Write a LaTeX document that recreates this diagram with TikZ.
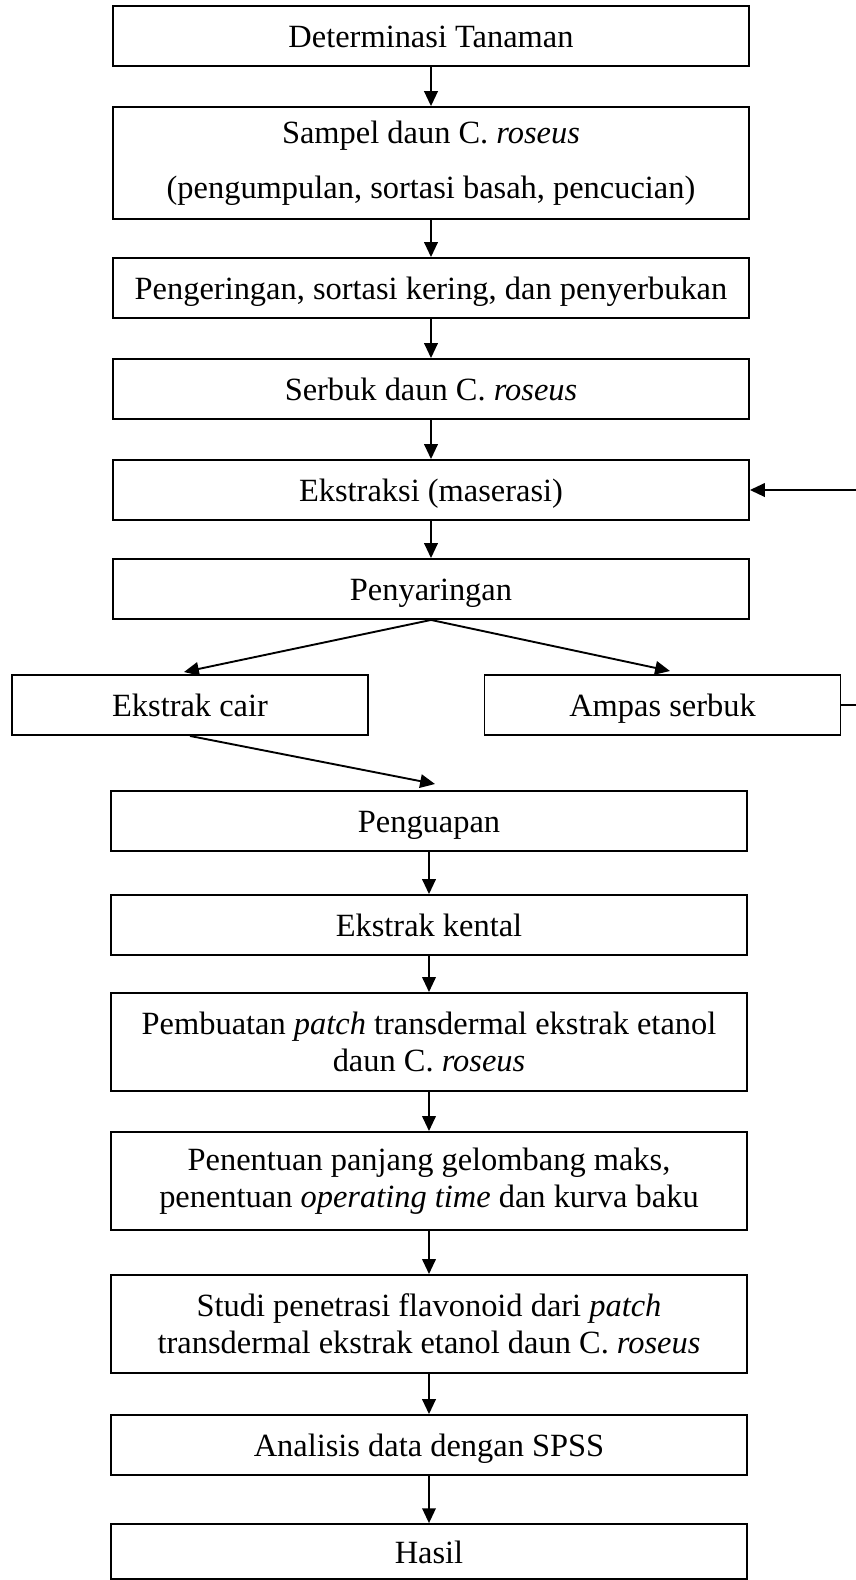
\documentclass[tikz,border=0pt]{standalone}
\usepackage{fontspec}
\setmainfont{Liberation Serif}
\usepackage{tikz}
\usetikzlibrary{arrows.meta}

\begin{document}
\begin{tikzpicture}[x=0.37pt, y=-0.37pt,
		kotak/.style={draw, rectangle, line width=0.7pt, inner sep=0pt, align=center,
			minimum width=235.3pt, minimum height=22.2pt,
			font=\fontsize{12pt}{13.8pt}\selectfont},
		proses/.style={kotak, text height=0.95em, text depth=0.1em},
		kecil/.style={proses, minimum width=131.7pt},
		dua/.style={kotak, minimum height=36.3pt},
		panah/.style={-{Triangle[length=5.5pt, width=5pt]}, line width=0.7pt}]
			\useasboundingbox (0,0) rectangle (856,1580);
			
			\node[proses] (det) at (431,36) {Determinasi Tanaman};
			\node[kotak, minimum height=41.4pt] (sampel) at (431,163) {Sampel daun C. \textit{roseus}\\[6.6pt](pengumpulan, sortasi basah, pencucian)};
			\node[proses] (kering) at (431,288) {Pengeringan, sortasi kering, dan penyerbukan};
			\node[proses] (serbuk) at (431,389) {Serbuk daun C. \textit{roseus}};
			\node[proses] (ekstraksi) at (431,490) {Ekstraksi (maserasi)};
			\node[proses] (saring) at (431,589) {Penyaringan};
			
			\node[kecil] (cair) at (190,705) {Ekstrak cair};
			\node[kecil] (ampas) at (662.5,705) {Ampas serbuk};
			
			\node[proses] (uap) at (429,821) {Penguapan};
			\node[proses] (kental) at (429,925) {Ekstrak kental};
			\node[dua] (patch) at (429,1042) {Pembuatan \textit{patch} transdermal ekstrak etanol\\daun C. \textit{roseus}};
			\node[dua] (kurva) at (429,1181) {Penentuan panjang gelombang maks,\\penentuan \textit{operating time} dan kurva baku};
			\node[dua] (studi) at (429,1324) {Studi penetrasi flavonoid dari \textit{patch}\\transdermal ekstrak etanol daun C. \textit{roseus}};
			\node[proses] (spss) at (429,1445) {Analisis data dengan SPSS};
			\node[proses, minimum height=20.3pt] (hasil) at (429,1551.5) {Hasil};
			
			\coordinate (kecair) at (184,672);
			\coordinate (keampas) at (670,671);
			\coordinate (keuap) at (435,784);
			\coordinate (balik) at (880,705);
			
			\draw[panah] (det) to (sampel);
			\draw[panah] (sampel) to (kering);
			\draw[panah] (kering) to (serbuk);
			\draw[panah] (serbuk) to (ekstraksi);
			\draw[panah] (ekstraksi) to (saring);
			
			\draw[panah] (saring.south) to (kecair);
			\draw[panah] (saring.south) to (keampas);
			\draw[panah] (ampas.east) -- (balik) |- (ekstraksi.east);
			\draw[panah] (cair.south) to (keuap);
			
			\draw[panah] (uap) to (kental);
			\draw[panah] (kental) to (patch);
			\draw[panah] (patch) to (kurva);
			\draw[panah] (kurva) to (studi);
			\draw[panah] (studi) to (spss);
			\draw[panah] (spss) to (hasil);

\end{tikzpicture}
\end{document}
